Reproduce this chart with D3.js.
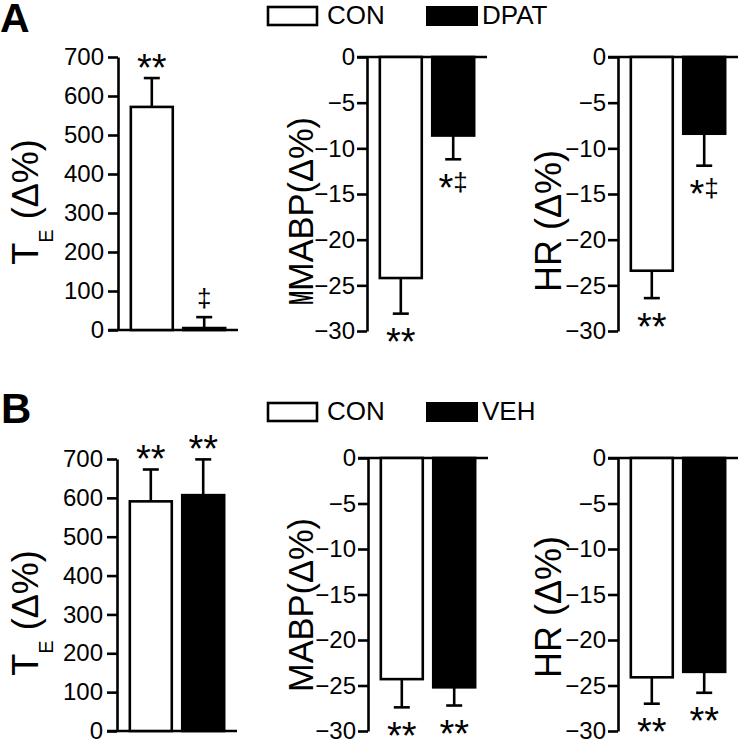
<!DOCTYPE html>
<html><head><meta charset="utf-8">
<script src="https://cdn.jsdelivr.net/npm/d3@7"></script>
<style>body{margin:0;background:#fff}svg{display:block}text{font-family:"Liberation Sans",Arial,sans-serif;fill:#000}</style>
</head><body>
<script>
// ---------- data ----------
const groupsA = ["CON", "DPAT"];
const groupsB = ["CON", "VEH"];
const teTicks = [0, 100, 200, 300, 400, 500, 600, 700];
const negTicks = [0, -5, -10, -15, -20, -25, -30];

const teA_mean = [572, 5];        const teA_err = [74, 28];
const mabpA_mean = [-24.2, -8.6]; const mabpA_err = [3.9, 2.6];
const hrA_mean = [-23.4, -8.4];   const hrA_err = [3.0, 3.5];

const teB_mean = [591, 607];       const teB_err = [82, 92];
const mabpB_mean = [-24.3, -25.2]; const mabpB_err = [3.1, 2.0];
const hrB_mean = [-24.1, -23.5];   const hrB_err = [2.9, 2.3];

const sigA_te = ["**", "‡"];
const sigA_mabp = ["**", "*‡"];
const sigA_hr = ["**", "*‡"];
const sigB_te = ["**", "**"];
const sigB_mabp = ["**", "**"];
const sigB_hr = ["**", "**"];

const fills = ["#fff", "#000"];

// ---------- drawing ----------
const W = 739, H = 739;
const svg = d3.select("body").append("svg").attr("width", W).attr("height", H);

function panel(opt) {
  const g = svg.append("g");
  const y = d3.scaleLinear().domain(opt.domain).range([opt.yBottom, opt.yTop]);
  const x = d3.scaleBand().domain(opt.groups).range([opt.axisX, opt.axisX + 120])
    .paddingInner(0.15).paddingOuter(0.22);
  const ax = g.append("g").attr("transform", `translate(${opt.axisX},0)`)
    .call(d3.axisLeft(y).tickValues(opt.ticks).tickSize(10).tickSizeOuter(0).tickPadding(opt.pad));
  ax.selectAll("path.domain").attr("stroke", "#000").attr("stroke-width", 2.6);
  ax.selectAll(".tick line").attr("stroke", "#000").attr("stroke-width", 2.6);
  ax.selectAll(".tick text").attr("font-size", 24).attr("font-family", "Liberation Sans").attr("fill", "#000");
  // zero line
  g.append("line").attr("x1", opt.axisX - 10).attr("x2", opt.axisX + 120)
    .attr("y1", y(0)).attr("y2", y(0)).attr("stroke", "#000").attr("stroke-width", 2.6);
  const data = opt.groups.map((k, i) => ({k, i, m: opt.mean[i], e: opt.err[i], s: opt.sig[i]}));
  data.forEach(d => {
    const cx = x(d.k) + x.bandwidth() / 2;
    const end = d.m >= 0 ? d.m + d.e : d.m - d.e;
    g.append("line").attr("x1", cx).attr("x2", cx).attr("y1", y(d.m)).attr("y2", y(end))
      .attr("stroke", "#000").attr("stroke-width", 2.6);
    g.append("line").attr("x1", cx - 8).attr("x2", cx + 8).attr("y1", y(end)).attr("y2", y(end))
      .attr("stroke", "#000").attr("stroke-width", 2.6);
    const cy = y(end) + (d.m >= 0 ? -18 : 21);
    const t = g.append("text").attr("text-anchor", "middle").attr("x", cx);
    if (d.s === "**") {
      t.attr("y", cy + 20.5).attr("font-size", 38).text("**");
    } else if (d.s === "‡") {
      t.attr("y", cy + 8).attr("font-size", 26).text("‡");
    } else {
      t.attr("y", cy + 20.5);
      t.append("tspan").attr("font-size", 38).text("*");
      t.append("tspan").attr("font-size", 26).attr("dy", -10).text("‡");
    }
  });
  g.selectAll("rect.bar").data(data).join("rect").attr("class", "bar")
    .attr("x", d => x(d.k) + 1.3).attr("width", x.bandwidth() - 2.6)
    .attr("y", d => Math.min(y(0), y(d.m)))
    .attr("height", d => Math.max(1, Math.abs(y(d.m) - y(0))))
    .attr("fill", d => fills[d.i]).attr("stroke", "#000").attr("stroke-width", 2.6);
  return g;
}

function rotLabel(x, y, parts, len) {
  const t = svg.append("text").attr("transform", `translate(${x},${y}) rotate(-90)`)
    .attr("text-anchor", "middle");
  parts.forEach(p => {
    const s = t.append("tspan").attr("font-size", p.size).text(p.text);
    if (p.dy) s.attr("dy", p.dy);
  });
  if (len) t.attr("textLength", len).attr("lengthAdjust", "spacingAndGlyphs");
  return t;
}

function legend(y0, names) {
  svg.append("rect").attr("x", 268).attr("y", y0).attr("width", 49).attr("height", 18)
    .attr("fill", "#fff").attr("stroke", "#000").attr("stroke-width", 2.6);
  svg.append("text").attr("x", 327).attr("y", y0 + 17).attr("font-size", 26).text(names[0]);
  svg.append("rect").attr("x", 426).attr("y", y0 - 1).attr("width", 52).attr("height", 20)
    .attr("fill", "#000");
  svg.append("text").attr("x", 482).attr("y", y0 + 17).attr("font-size", 26).text(names[1]);
}

// Row A
panel({groups: groupsA, mean: teA_mean, err: teA_err, sig: sigA_te, domain: [0, 700], ticks: teTicks, axisX: 118, yTop: 57, yBottom: 330, pad: 4});
panel({groups: groupsA, mean: mabpA_mean, err: mabpA_err, sig: sigA_mabp, domain: [-30, 0], ticks: negTicks, axisX: 367, yTop: 57, yBottom: 331, pad: 2});
panel({groups: groupsA, mean: hrA_mean, err: hrA_err, sig: sigA_hr, domain: [-30, 0], ticks: negTicks, axisX: 618, yTop: 57, yBottom: 331, pad: 2});
// Row B
panel({groups: groupsB, mean: teB_mean, err: teB_err, sig: sigB_te, domain: [0, 700], ticks: teTicks, axisX: 117, yTop: 459, yBottom: 731, pad: 4});
panel({groups: groupsB, mean: mabpB_mean, err: mabpB_err, sig: sigB_mabp, domain: [-30, 0], ticks: negTicks, axisX: 368, yTop: 458, yBottom: 731, pad: 2});
panel({groups: groupsB, mean: hrB_mean, err: hrB_err, sig: sigB_hr, domain: [-30, 0], ticks: negTicks, axisX: 618, yTop: 458, yBottom: 731, pad: 2});

legend(7, groupsA);
legend(403, groupsB);

svg.append("text").attr("x", 0).attr("y", 32).attr("font-size", 41).attr("font-weight", "bold").text("A");
svg.append("text").attr("x", 1).attr("y", 423).attr("font-size", 42).attr("font-weight", "bold").text("B");

// axis titles
function teLabel(x, yc) {
  rotLabel(x, yc, [{text: "T", size: 36}, {text: "E", size: 20, dy: 15}, {text: " (Δ%)", size: 36, dy: -15}]);
}
teLabel(38, 202);
teLabel(38, 613);
rotLabel(313, 204, [{text: "MABP(Δ%)", size: 35}], 174);
rotLabel(313, 605, [{text: "MABP(Δ%)", size: 35}], 174);
// overlapping extra "M" visible in the original (panel A)
rotLabel(313, 298, [{text: "M", size: 35}], 14).attr("font-weight", "bold");
rotLabel(561, 221, [{text: "HR (Δ%)", size: 36}]);
rotLabel(561, 607, [{text: "HR (Δ%)", size: 36}]);
</script>
</body></html>
